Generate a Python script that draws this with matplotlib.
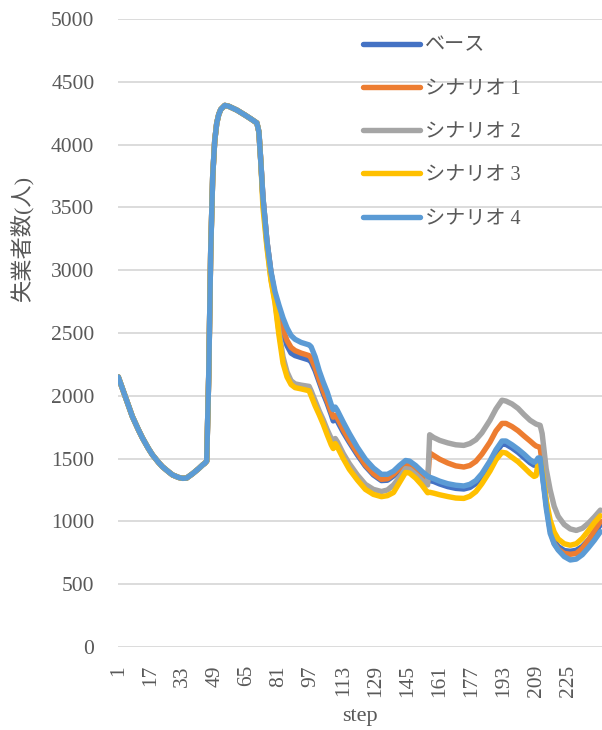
import numpy as np
import matplotlib.pyplot as plt

# 共通部分 (全シナリオ同じ値)
head_steps = [1, 3, 5, 8, 11, 13, 16, 18, 21, 23, 26, 28, 31, 33, 35, 38, 41, 43, 44,
              45, 46, 47, 48, 49, 50, 51, 52, 54, 56, 60, 64, 67, 70, 71, 72]
head_vals = [2150, 2060, 1970, 1835, 1730, 1665, 1580, 1530, 1470, 1435, 1395, 1370, 1350, 1343, 1345, 1380, 1420, 1450, 1462,
             1480, 2150, 3150, 3750, 4030, 4170, 4240, 4280, 4312, 4305, 4275, 4236, 4205, 4172, 4100, 3850]

# 分岐後
tail_steps = [73, 75, 77, 79, 81, 83, 85, 87, 89, 92,
              96, 97, 99, 101, 103, 105, 107, 108, 109, 110,
              113, 116, 120, 124, 128, 132, 135, 138, 141, 144,
              146, 149, 152, 155, 156, 158, 161, 165, 169, 173,
              176, 179, 182, 186, 189, 192, 194, 197, 200, 203,
              206, 208, 209, 210, 211, 212, 213, 214, 216, 218,
              220, 223, 226, 229, 232, 235, 238, 241]

base = [3580, 3230, 2980, 2790, 2630, 2500, 2400, 2340, 2320, 2305,
        2285, 2270, 2200, 2110, 2020, 1940, 1850, 1800, 1820, 1800,
        1710, 1630, 1530, 1440, 1370, 1325, 1328, 1362, 1408, 1440,
        1435, 1400, 1355, 1318, 1325, 1318, 1298, 1277, 1263, 1258,
        1270, 1302, 1358, 1458, 1548, 1615, 1613, 1585, 1550, 1508,
        1467, 1447, 1455, 1490, 1495, 1390, 1270, 1140, 935, 845,
        800, 768, 762, 770, 800, 850, 910, 972]

sc1 = [3580, 3230, 2980, 2800, 2650, 2530, 2440, 2385, 2360, 2340,
       2320, 2300, 2225, 2130, 2040, 1960, 1870, 1830, 1845, 1825,
       1730, 1645, 1545, 1450, 1380, 1335, 1340, 1375, 1420, 1450,
       1445, 1410, 1365, 1322, 1545, 1525, 1495, 1465, 1442, 1433,
       1445, 1478, 1535, 1630, 1720, 1780, 1780, 1755, 1722, 1680,
       1640, 1612, 1600, 1595, 1590, 1460, 1300, 1150, 930, 825,
       778, 745, 738, 745, 785, 850, 925, 1000]

sc2 = [3560, 3200, 2930, 2760, 2510, 2310, 2190, 2120, 2095, 2085,
       2075, 2040, 1960, 1880, 1810, 1730, 1660, 1630, 1660, 1635,
       1540, 1460, 1370, 1295, 1255, 1238, 1250, 1290, 1350, 1420,
       1415, 1375, 1330, 1290, 1690, 1668, 1645, 1625, 1610, 1605,
       1620, 1650, 1705, 1805, 1895, 1965, 1958, 1935, 1900, 1850,
       1805, 1785, 1775, 1770, 1765, 1700, 1560, 1420, 1250, 1120,
       1040, 975, 940, 928, 945, 985, 1035, 1090]

sc3 = [3500, 3180, 2920, 2740, 2480, 2260, 2150, 2090, 2065, 2055,
       2040, 2000, 1920, 1850, 1775, 1690, 1610, 1580, 1620, 1595,
       1500, 1415, 1330, 1255, 1215, 1197, 1205, 1230, 1310, 1390,
       1385, 1345, 1292, 1228, 1232, 1225, 1212, 1198, 1186, 1183,
       1200, 1237, 1300, 1400, 1490, 1550, 1545, 1510, 1475, 1430,
       1383, 1358, 1365, 1470, 1500, 1410, 1290, 1170, 1010, 915,
       860, 822, 810, 822, 865, 925, 990, 1045]

sc4 = [3580, 3230, 2990, 2830, 2720, 2620, 2540, 2480, 2450, 2425,
       2405, 2390, 2310, 2200, 2110, 2030, 1930, 1890, 1910, 1885,
       1790, 1700, 1590, 1495, 1425, 1375, 1375, 1400, 1445, 1485,
       1480, 1445, 1400, 1360, 1352, 1340, 1320, 1300, 1288, 1282,
       1295, 1325, 1380, 1480, 1570, 1640, 1640, 1610, 1575, 1535,
       1490, 1470, 1480, 1505, 1505, 1380, 1250, 1110, 905, 820,
       772, 720, 693, 700, 735, 790, 850, 918]

labels = ['ベース', 'シナリオ 1', 'シナリオ 2', 'シナリオ 3', 'シナリオ 4']
colors = ['#4472C4', '#ED7D31', '#A5A5A5', '#FFC000', '#5B9BD5']
series = [base, sc1, sc2, sc3, sc4]

x_ticks = list(range(1, 226, 16))
y_ticks = list(range(0, 5001, 500))

plt.rcParams['font.family'] = ['Liberation Serif', 'Noto Sans CJK JP']
txt = '#595959'

fig = plt.figure(figsize=(6.02, 7.30), dpi=100)
ax = fig.add_axes([118/602, 1-647/730, 1-118/602, 628/730])

steps = np.array(head_steps + tail_steps)
for vals, lab, col in zip(series, labels, colors):
    ax.plot(steps, head_vals + vals, color=col, lw=3.9, label=lab,
            solid_joinstyle='round', solid_capstyle='round')

ax.set_xlim(0.85, 241.8)
ax.set_ylim(0, 5000)
ax.set_yticks(y_ticks)
ax.set_xticks(x_ticks)
ax.set_xticklabels([str(t) for t in x_ticks], rotation=90, va='top', ha='center')
ax.grid(axis='y', color='#d9d9d9', lw=1.3)
ax.set_axisbelow(True)
for s in ax.spines.values():
    s.set_visible(False)
ax.tick_params(axis='y', length=0, pad=17, labelsize=15.5, labelcolor=txt)
ax.tick_params(axis='x', length=0, pad=13, labelsize=15.5, labelcolor=txt)

fig.text(360/602, 1-717/730, 'step', ha='center', va='center', fontsize=16, color=txt)
fig.text(22/602, 1-239/730, '失業者数(人)', ha='center', va='center', rotation=90,
         fontsize=16, color=txt)

leg = ax.legend(loc='upper left', bbox_to_anchor=(0.49, 0.985), frameon=False,
                fontsize=14.5, handlelength=2.8, handletextpad=0.25, labelspacing=1.2,
                borderaxespad=0)
for t in leg.get_texts():
    t.set_color(txt)

fig.savefig('out.png', dpi=100)
